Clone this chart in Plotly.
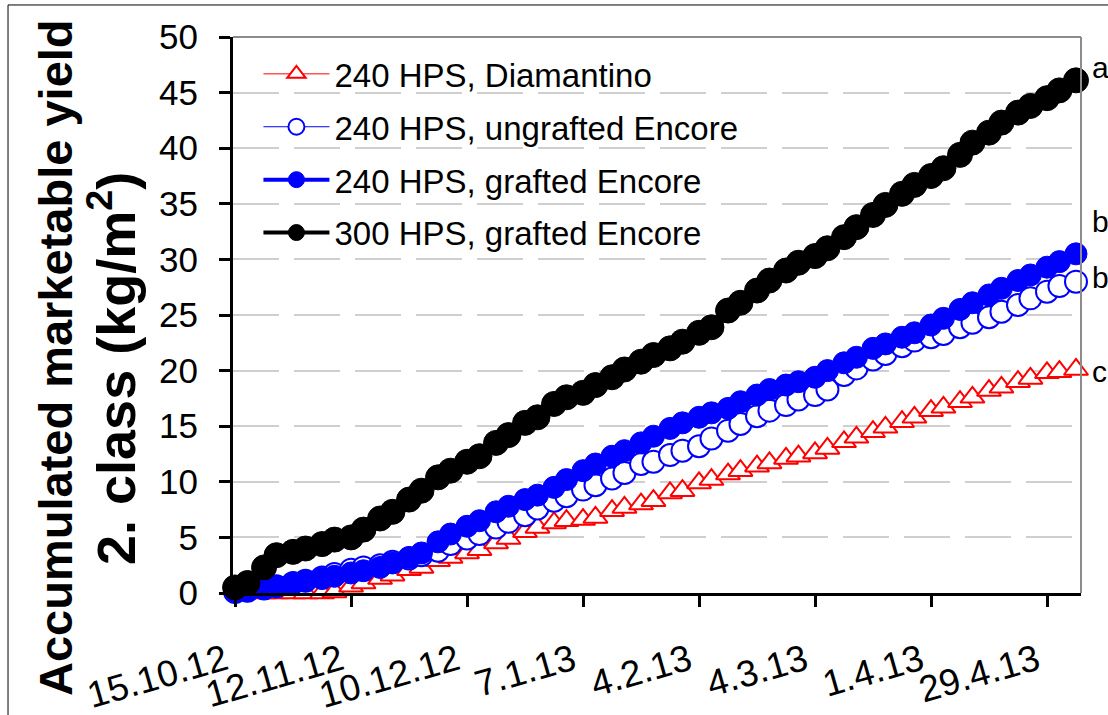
import plotly.graph_objects as go

dates = ["2012-10-15","2012-10-18","2012-10-22","2012-10-25","2012-10-29","2012-11-01","2012-11-05","2012-11-08",
         "2012-11-12","2012-11-15","2012-11-19","2012-11-22","2012-11-26","2012-11-29","2012-12-03","2012-12-06",
         "2012-12-10","2012-12-13","2012-12-17","2012-12-20","2012-12-24","2012-12-27","2012-12-31","2013-01-03",
         "2013-01-07","2013-01-10","2013-01-14","2013-01-17","2013-01-21","2013-01-24","2013-01-28","2013-01-31",
         "2013-02-04","2013-02-07","2013-02-11","2013-02-14","2013-02-18","2013-02-21","2013-02-25","2013-02-28",
         "2013-03-04","2013-03-07","2013-03-11","2013-03-14","2013-03-18","2013-03-21","2013-03-25","2013-03-28",
         "2013-04-01","2013-04-04","2013-04-08","2013-04-11","2013-04-15","2013-04-18","2013-04-22","2013-04-25",
         "2013-04-29","2013-05-02","2013-05-06"]

diamantino_240 = [None, None, 0.0, 0.0, 0.0, 0.0, 0.0, 0.1, 0.6, 0.9,
                  1.3, 1.6, 2.1, 2.3, 2.9, 3.2, 3.6, 3.9, 4.5, 4.9,
                  5.5, 5.9, 6.3, 6.5, 6.6, 6.8, 7.4, 7.7, 8.0, 8.3,
                  9.0, 9.2, 9.9, 10.2, 10.7, 11.0, 11.4, 11.7, 12.1, 12.3,
                  12.6, 13.0, 13.6, 14.0, 14.5, 14.9, 15.4, 15.8, 16.4, 16.7,
                  17.2, 17.6, 18.2, 18.5, 19.0, 19.3, 19.8, 19.9, 20.1]

ungrafted_240 = [0.1, 0.2, 0.4, 0.6, 0.9, 1.1, 1.4, 1.7, 2.1, 2.3,
                 2.5, 2.8, 3.1, 3.4, 3.8, 4.4, 4.9, 5.3, 5.9, 6.4,
                 7.0, 7.6, 8.3, 8.7, 9.3, 9.7, 10.3, 10.8, 11.6, 11.8,
                 12.4, 12.8, 13.2, 13.9, 14.6, 15.2, 15.9, 16.4, 16.9, 17.4,
                 17.8, 18.3, 19.6, 20.2, 21.0, 21.5, 22.2, 22.7, 23.0, 23.3,
                 23.9, 24.3, 24.8, 25.3, 25.9, 26.5, 27.1, 27.6, 28.0]

grafted_240 = [0.1, 0.2, 0.4, 0.6, 0.9, 1.1, 1.3, 1.5, 1.8, 2.0,
               2.3, 2.7, 3.2, 3.6, 4.6, 5.3, 6.0, 6.5, 7.3, 7.8,
               8.4, 8.8, 9.5, 10.2, 11.0, 11.6, 12.3, 12.8, 13.5, 14.1,
               14.8, 15.3, 15.8, 16.2, 16.6, 17.2, 17.8, 18.3, 18.7, 19.0,
               19.4, 20.0, 20.7, 21.2, 22.0, 22.4, 23.0, 23.4, 24.1, 24.7,
               25.5, 26.1, 26.8, 27.4, 28.1, 28.6, 29.3, 29.8, 30.5]

grafted_300 = [0.5, 0.9, 2.3, 3.4, 3.7, 4.0, 4.4, 4.8, 5.0, 5.7,
               6.7, 7.3, 8.4, 9.2, 10.4, 11.0, 11.8, 12.3, 13.5, 14.2,
               15.3, 15.8, 17.0, 17.6, 18.0, 18.7, 19.4, 20.1, 20.8, 21.4,
               22.0, 22.6, 23.4, 23.9, 25.4, 26.1, 27.2, 28.1, 29.0, 29.7,
               30.3, 31.0, 32.0, 32.9, 34.0, 34.9, 35.9, 36.7, 37.5, 38.2,
               39.4, 40.5, 41.4, 42.3, 43.2, 43.8, 44.5, 45.2, 46.1]

series_names = ["240 HPS, Diamantino", "240 HPS, ungrafted Encore",
                "240 HPS, grafted Encore", "300 HPS, grafted Encore"]

tick_dates = ["2012-10-15", "2012-11-12", "2012-12-10", "2013-01-07",
              "2013-02-04", "2013-03-04", "2013-04-01", "2013-04-29"]
tick_labels = ["15.10.12", "12.11.12", "10.12.12", "7.1.13",
               "4.2.13", "4.3.13", "1.4.13", "29.4.13"]

sig_letters = ["a", "b", "b", "c"]
sig_y = [47.3, 33.4, 28.4, 19.9]

title_line1 = "Accumulated marketable yield"
title_line2 = "2. class (kg/m<sup>2</sup>)"

FONT = "Liberation Sans, Arial, sans-serif"

fig = go.Figure()

fig.add_trace(go.Scatter(
    x=dates, y=diamantino_240, name=series_names[0], mode="lines+markers",
    line=dict(color="#ff0000", width=1),
    marker=dict(symbol="triangle-up", size=21, color="white",
                line=dict(color="#ff0000", width=2)),
    cliponaxis=False, legendgroup="g1"))

fig.add_trace(go.Scatter(
    x=dates, y=ungrafted_240, name=series_names[1], mode="lines+markers",
    line=dict(color="#0000ff", width=1),
    marker=dict(symbol="circle", size=22, color="white",
                line=dict(color="#0000ff", width=2)),
    cliponaxis=False, legendgroup="g2"))

fig.add_trace(go.Scatter(
    x=dates, y=grafted_240, name=series_names[2], mode="lines+markers",
    line=dict(color="#0000ff", width=4),
    marker=dict(symbol="circle", size=22, color="#0000ff",
                line=dict(color="#0000ff", width=1)),
    cliponaxis=False, legendgroup="g3"))

fig.add_trace(go.Scatter(
    x=dates, y=grafted_300, name=series_names[3], mode="lines+markers",
    line=dict(color="#000000", width=4),
    marker=dict(symbol="circle", size=25, color="#000000",
                line=dict(color="#000000", width=1)),
    cliponaxis=False, legendgroup="g4"))

annotations = []
for letter, yv in zip(sig_letters, sig_y):
    annotations.append(dict(
        x=1.0106, xref="paper", y=yv, yref="y", text=letter, showarrow=False,
        xanchor="left", yanchor="middle", font=dict(family=FONT, size=30, color="black")))

# y-axis title, two lines
annotations.append(dict(
    x=(55 - 233) / 848, xref="paper", y=(593 - 358) / 556, yref="paper",
    text="<b>" + title_line1 + "</b>",
    textangle=-90, showarrow=False, xanchor="center", yanchor="middle",
    font=dict(family=FONT, size=47, color="black")))
annotations.append(dict(
    x=(112 - 233) / 848, xref="paper", y=(593 - 368) / 556, yref="paper",
    text="<b>" + title_line2 + "</b>",
    textangle=-90, showarrow=False, xanchor="center", yanchor="middle",
    font=dict(family=FONT, size=54, color="black")))

shapes = [
    dict(type="line", xref="paper", yref="paper", x0=0, x1=1, y0=1, y1=1,
         line=dict(color="#8c8c8c", width=2)),
    dict(type="line", xref="paper", yref="paper", x0=1, x1=1, y0=0, y1=1,
         line=dict(color="#8c8c8c", width=2)),
    dict(type="line", xref="paper", yref="paper", x0=-0.2653, x1=-0.2653, y0=-0.3, y1=1.0576,
         line=dict(color="black", width=1)),
    dict(type="line", xref="paper", yref="paper", x0=-0.2653, x1=1.1, y0=1.0576, y1=1.0576,
         line=dict(color="black", width=1)),
]

fig.update_layout(
    width=1108, height=715,
    margin=dict(l=233, r=27, t=37, b=122, autoexpand=False),
    paper_bgcolor="white", plot_bgcolor="white",
    font=dict(family=FONT, color="black"),
    showlegend=True,
    legend=dict(x=0.03, y=0.984, xanchor="left", yanchor="top",
                bgcolor="rgba(0,0,0,0)", font=dict(family=FONT, size=33),
                itemwidth=66, tracegroupgap=7, traceorder="grouped"),
    annotations=annotations,
    shapes=shapes,
    xaxis=dict(
        type="date", range=["2012-10-14 12:00", "2013-05-07 05:00"],
        tickvals=tick_dates, ticktext=tick_labels, tickangle=-16,
        ticks="outside", ticklen=11, tickwidth=3, tickcolor="black",
        showline=True, linewidth=3, linecolor="black",
        showgrid=False, zeroline=False, automargin=False,
        tickfont=dict(family=FONT, size=37, color="black"),
        ticklabelstandoff=18, ticklabelshift=-10),
    yaxis=dict(
        range=[0, 50], dtick=5, tick0=0,
        ticks="outside", ticklen=11, tickwidth=3, tickcolor="black",
        showline=True, linewidth=3, linecolor="black",
        showgrid=True, gridcolor="#cfcfcf", gridwidth=1.5, griddash="46px,15px",
        zeroline=False, automargin=False,
        tickfont=dict(family=FONT, size=35, color="black"),
        ticklabelstandoff=14),
)

fig.write_html("out.html")
